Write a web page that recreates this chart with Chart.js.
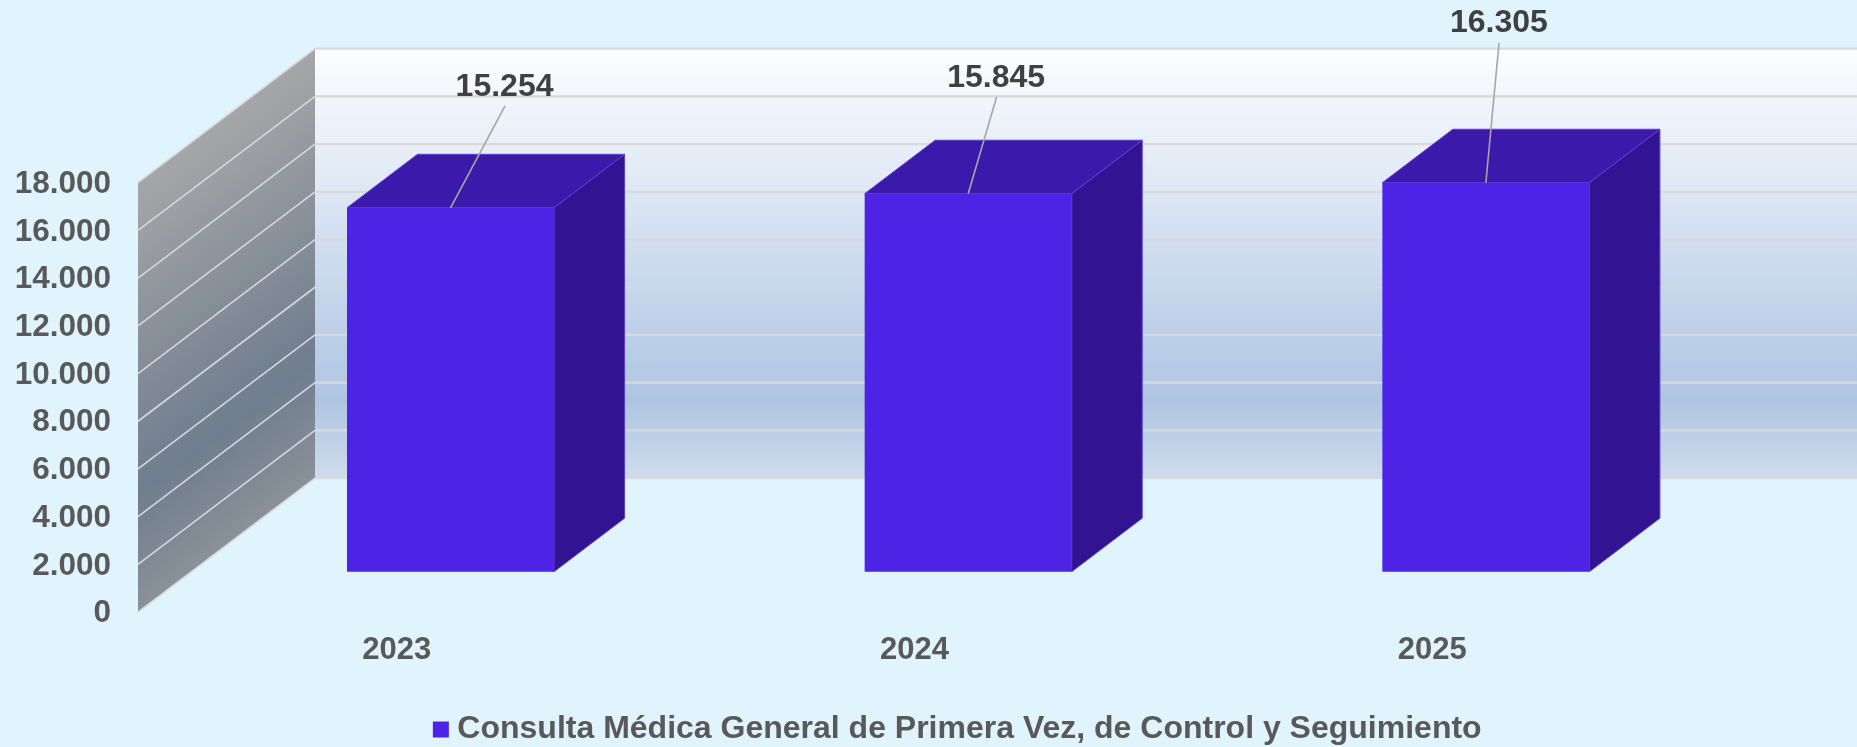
<!DOCTYPE html>
<html>
<head>
<meta charset="utf-8">
<style>
html,body{margin:0;padding:0;background:#DFF4FC;overflow:hidden}
canvas{display:block}
</style>
<script src="https://cdn.jsdelivr.net/npm/chart.js@4"></script>
</head>
<body>
<canvas id="c" width="1857" height="747"></canvas>
<script>
const categories = ['2023', '2024', '2025'];
const seriesName = 'Consulta Médica General de Primera Vez, de Control y Seguimiento';
const seriesValues = [15254, 15845, 16305];
const axisMax = 18000;
const axisStep = 2000;

const FONT = '"Liberation Sans", Arial, sans-serif';
const fmt = v => String(v).replace(/\B(?=(\d{3})+$)/g, '.');

// 3D look (pixels)
const WALL = {dx: 177, dy: -134};
const BAR_SHIFT = {dx: 53.7, dy: -40.4};
const BAR_DEPTH = {dx: 70.5, dy: -53.5};
const LABEL_OFFSET = [{dx: 54, dy: -121, lx: 0.5, ly: -102}, {dx: 28, dy: -116, lx: 0.5, ly: -97}, {dx: 13, dy: -160, lx: 0.2, ly: -140}];

const threeD = {
  id: 'threeD',
  afterLayout(chart) {
    const d = 115.5;
    chart.legend.left += d;
    chart.legend.right += d;
    chart.legend.top += 8.5;
    chart.legend.bottom += 8.5;
    const y = chart.scales.y;
    const orig = y.drawLabels;
    y.drawLabels = function (area) {
      chart.ctx.save();
      chart.ctx.translate(0, 1.5);
      orig.call(y, area);
      chart.ctx.restore();
    };
  },
  beforeDatasetsDraw(chart) {
    const {ctx, chartArea: a, scales: {y}} = chart;
    const yTop = y.getPixelForValue(axisMax), yBot = y.getPixelForValue(0);
    const xF = a.left, xB = a.left + WALL.dx;
    const xR = a.right + WALL.dx;
    ctx.save();
    // back wall
    const g = ctx.createLinearGradient(0, yTop + WALL.dy, 0, yBot + WALL.dy);
    g.addColorStop(0, '#FCFDFE');
    g.addColorStop(0.25, '#E6EDF7');
    g.addColorStop(0.5, '#CCDBEE');
    g.addColorStop(0.82, '#AEC5E2');
    g.addColorStop(1, '#CEDCEC');
    ctx.fillStyle = g;
    ctx.fillRect(xB, yTop + WALL.dy, xR - xB, yBot - yTop);
    // side wall
    const s = ctx.createLinearGradient(226, 116, 433, 389);
    s.addColorStop(0, '#A6A6A8');
    s.addColorStop(0.35, '#8B929B');
    s.addColorStop(0.72, '#6F7D8E');
    s.addColorStop(1, '#8A9199');
    ctx.fillStyle = s;
    ctx.beginPath();
    ctx.moveTo(xF, yTop);
    ctx.lineTo(xB, yTop + WALL.dy);
    ctx.lineTo(xB, yBot + WALL.dy);
    ctx.lineTo(xF, yBot);
    ctx.closePath();
    ctx.fill();
    // grid lines from the scale's ticks
    y.ticks.forEach(t => {
      const py = y.getPixelForValue(t.value);
      ctx.strokeStyle = '#D9D9D9';
      ctx.lineWidth = 2.2;
      ctx.beginPath();
      ctx.moveTo(xB, py + WALL.dy);
      ctx.lineTo(xR, py + WALL.dy);
      ctx.stroke();
      ctx.strokeStyle = '#D6D8DA';
      ctx.lineWidth = 1.6;
      ctx.beginPath();
      ctx.moveTo(xF, py);
      ctx.lineTo(xB, py + WALL.dy);
      ctx.stroke();
    });
    // 3D faces of bars
    chart.getDatasetMeta(0).data.forEach(el => {
      const p = el.getProps(['x', 'y', 'base', 'width'], true);
      const l = p.x - p.width / 2 + BAR_SHIFT.dx, r = p.x + p.width / 2 + BAR_SHIFT.dx;
      const t = p.y + BAR_SHIFT.dy, b = p.base + BAR_SHIFT.dy;
      ctx.lineWidth = 1;
      ctx.strokeStyle = '#5A3FD2';
      ctx.fillStyle = '#3B1AAB';
      ctx.beginPath();
      ctx.moveTo(l, t);
      ctx.lineTo(l + BAR_DEPTH.dx, t + BAR_DEPTH.dy);
      ctx.lineTo(r + BAR_DEPTH.dx, t + BAR_DEPTH.dy);
      ctx.lineTo(r, t);
      ctx.closePath();
      ctx.fill();
      ctx.stroke();
      ctx.fillStyle = '#321493';
      ctx.beginPath();
      ctx.moveTo(r, t);
      ctx.lineTo(r + BAR_DEPTH.dx, t + BAR_DEPTH.dy);
      ctx.lineTo(r + BAR_DEPTH.dx, b + BAR_DEPTH.dy);
      ctx.lineTo(r, b);
      ctx.closePath();
      ctx.fill();
      ctx.stroke();
    });
    ctx.restore();
  },
  beforeDatasetDraw(chart) {
    chart.ctx.save();
    chart.ctx.translate(BAR_SHIFT.dx, BAR_SHIFT.dy);
  },
  afterDatasetDraw(chart) {
    chart.ctx.restore();
  },
  afterDatasetsDraw(chart) {
    const {ctx} = chart;
    ctx.save();
    chart.getDatasetMeta(0).data.forEach((el, i) => {
      const p = el.getProps(['x', 'y'], true);
      const o = LABEL_OFFSET[i];
      const x = p.x + BAR_SHIFT.dx, y = p.y + BAR_SHIFT.dy;
      ctx.strokeStyle = '#A6A6A6';
      ctx.lineWidth = 1.6;
      ctx.beginPath();
      ctx.moveTo(x, y);
      ctx.lineTo(x + o.dx + o.lx, y + o.ly);
      ctx.stroke();
      ctx.fillStyle = '#404040';
      ctx.font = 'bold 32px ' + FONT;
      ctx.textAlign = 'center';
      ctx.textBaseline = 'middle';
      ctx.fillText(fmt(seriesValues[i]), x + o.dx, y + o.dy);
    });
    ctx.restore();
  }
};

new Chart(document.getElementById('c'), {
  type: 'bar',
  data: {
    labels: categories,
    datasets: [{
      label: seriesName,
      data: seriesValues,
      backgroundColor: '#4D24E5',
      borderWidth: 0,
      categoryPercentage: 1,
      barPercentage: 0.4,
      clip: false
    }]
  },
  plugins: [threeD],
  options: {
    responsive: false,
    animation: false,
    events: [],
    layout: {padding: {top: 182.7, right: 166, left: 0, bottom: 0}},
    plugins: {
      title: {display: false},
      tooltip: {enabled: false},
      legend: {
        display: true,
        position: 'bottom',
        labels: {
          color: '#595959',
          font: {family: FONT, weight: 'bold', size: 32},
          boxWidth: 1,
          boxHeight: 1,
          padding: 4,
          generateLabels: c => [{
            text: c.data.datasets[0].label,
            fillStyle: c.data.datasets[0].backgroundColor,
            strokeStyle: c.data.datasets[0].backgroundColor,
            fontColor: '#595959',
            lineWidth: 15,
            hidden: false,
            datasetIndex: 0
          }]
        }
      }
    },
    scales: {
      x: {
        type: 'category',
        grid: {display: false, drawTicks: false},
        border: {display: false},
        ticks: {
          color: '#595959',
          font: {family: FONT, weight: 'bold', size: 31},
          padding: 20,
          maxRotation: 0
        },
        afterFit(s) { s.height = 88.9; }
      },
      y: {
        type: 'linear',
        min: 0,
        max: axisMax,
        grid: {display: false, drawTicks: false},
        border: {display: false},
        ticks: {
          stepSize: axisStep,
          color: '#595959',
          font: {family: FONT, weight: 'bold', size: 31.5},
          padding: 27,
          callback: v => fmt(v)
        },
        afterFit(s) { s.width = 138; }
      }
    }
  }
});
</script>
</body>
</html>
